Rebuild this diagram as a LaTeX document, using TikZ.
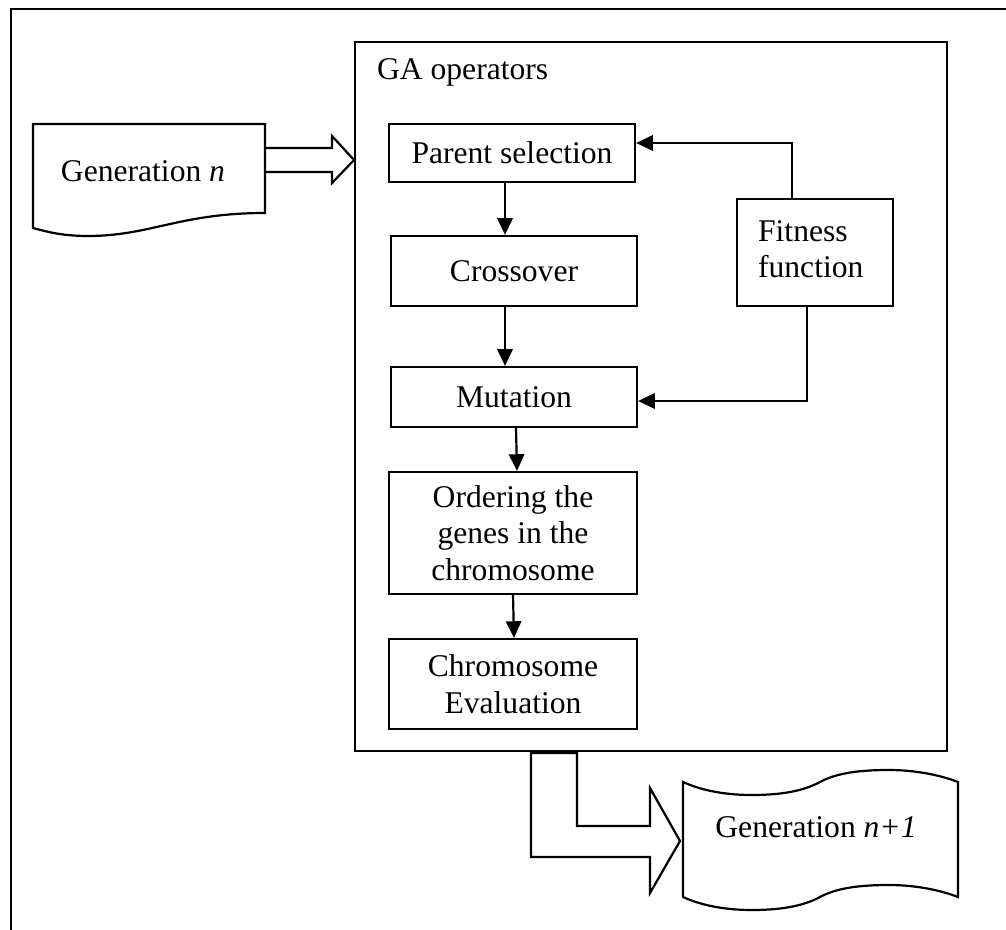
\documentclass[tikz,border=0pt]{standalone}
\usepackage{fontspec}
\setmainfont{Liberation Serif}
\usetikzlibrary{arrows.meta}
\begin{document}
\begin{tikzpicture}[x=0.75pt,y=-0.75pt,
  line width=1.65pt, line join=miter,
  txt/.style={font=\fontsize{23.7pt}{27.6pt}\selectfont},
  opbox/.style={txt, draw, align=center, inner sep=0pt, minimum width=184.5pt},
  arr/.style={-{Triangle[length=12.5pt,width=11.5pt]}},
]
\useasboundingbox (0,0) rectangle (1006,930);

% open frame around the figure
\coordinate (fb) at (11,930);
\coordinate (fc) at (11,9);
\coordinate (fr) at (1006,9);
\draw (fb) -- (fc) -- (fr);

% GA operators container
\node[draw, minimum width=444pt, minimum height=531.75pt, inner sep=0pt] (ga) at (651,396.5) {};
\node[txt, anchor=west, inner sep=0pt] (galabel) at (376,72) {GA operators};

% operator boxes
\node[opbox, minimum height=43.5pt] (P) at (512,153) {Parent selection};
\node[opbox, minimum height=52.5pt] (C) at (514,271) {Crossover};
\node[opbox, minimum height=45pt]   (M) at (514,397) {Mutation};
\node[opbox, minimum width=186pt, minimum height=91.5pt] (O) at (513,533) {Ordering the\\genes in the\\chromosome};
\node[opbox, minimum width=186pt, minimum height=67.5pt] (E) at (513,684) {Chromosome\\Evaluation};
\node[draw, minimum width=117pt, minimum height=80.25pt, inner sep=0pt] (F) at (815,252.5) {};
\node[txt, align=left, anchor=north west, inner sep=0pt] (Ftext) at (757,219) {Fitness\\function};

% flow between operators
\draw[arr] ([xshift=-5.25pt]P.south) -- ([xshift=-5.25pt]P.south |- C.north);
\draw[arr] ([xshift=-6.75pt]C.south) -- ([xshift=-6.75pt]C.south |- M.north);
\draw[arr] ([xshift=1.5pt]M.south) -- ([xshift=3pt]O.north);
\draw[arr] (O.south) -- ([xshift=0.75pt]E.north);
\draw[arr] ([xshift=-17.25pt]F.north) |- ([yshift=7.5pt]P.east);
\draw[arr] ([xshift=-6pt]F.south) |- ([yshift=-3pt]M.east);

% generation n (document shape)
\draw (33,124) -- (265,124) -- (265,213)
  .. controls (180,213) and (150,236) .. (88,236)
  .. controls (60,236) and (45,231) .. (33,228) -- cycle;
\node[txt, inner sep=0pt] (gn) at (143,171.5) {Generation \textit{n}};

% generation n+1 (punched tape shape)
\draw (683,782)
  .. controls (705,792) and (730,795) .. (752,795)
  .. controls (785,795) and (805,790) .. (820,782)
  .. controls (835,774) and (855,770) .. (889,770)
  .. controls (915,770) and (940,775) .. (958,782)
  -- (958,897)
  .. controls (940,890) and (915,885) .. (889,885)
  .. controls (855,885) and (835,889) .. (820,897)
  .. controls (805,905) and (785,910) .. (752,910)
  .. controls (730,910) and (705,907) .. (683,897) -- cycle;
\node[txt, inner sep=0pt] (gn1) at (816,827.5) {Generation \textit{n+1}};

% block arrow into the operators
\draw (265,148) -- (332,148) -- (332,136) -- (354,160) -- (332,183) -- (332,172) -- (265,172);

% bent block arrow out of the operators
\draw (531,753) -- (531,857) -- (650,857) -- (650,893) -- (680,841) -- (650,788)
  -- (650,826) -- (577,826) -- (577,753) -- cycle;
\end{tikzpicture}
\end{document}
